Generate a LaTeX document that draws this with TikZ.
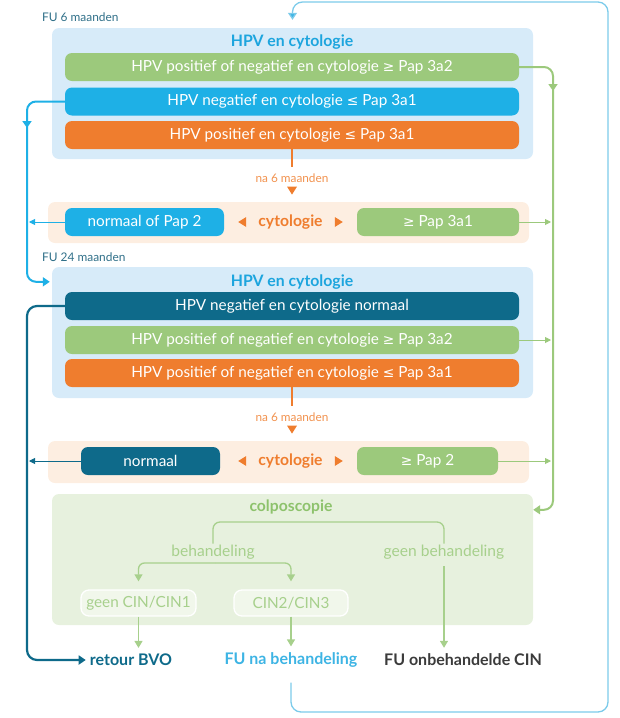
\documentclass[tikz,border=0pt]{standalone}
\usepackage{fontspec}
\setmainfont{Lato}
\newfontfamily\symf{DejaVu Sans}[Scale=0.9]
\usetikzlibrary{arrows.meta,calc}
\newcommand{\GE}{{\symf ≥}}
\newcommand{\LE}{{\symf ≤}}
\newcommand{\myfs}[1]{\fontsize{#1pt}{#1pt}\selectfont}
\definecolor{cgreen}{HTML}{9CC97C}
\definecolor{ccyan}{HTML}{1EB0E6}
\definecolor{corange}{HTML}{EF7D2E}
\definecolor{cdark}{HTML}{0E6A8A}
\definecolor{cpblue}{HTML}{D7EBF9}
\definecolor{cpeach}{HTML}{FDEEE1}
\definecolor{cpgreen}{HTML}{E7F1DE}
\definecolor{ctitle}{HTML}{1DA5DE}
\definecolor{cloop}{HTML}{7CCBEA}
\definecolor{cfu}{HTML}{2F6F88}
\definecolor{ctxtgreen}{HTML}{8DC26C}
\definecolor{clgreen}{HTML}{A7D08C}
\definecolor{cgray}{HTML}{3B3B3B}
\definecolor{cfuna}{HTML}{3DB4E4}
\begin{document}
\begin{tikzpicture}[x=1pt,y=-1pt,
  panel/.style={rounded corners=7pt, inner sep=0pt, minimum width=481pt},
  bar/.style={rounded corners=7pt, inner sep=0pt, minimum width=454pt, minimum height=28pt, text=white, font=\myfs{15.3}},
  sbox/.style={rounded corners=7pt, inner sep=0pt, minimum height=28pt, text=white, font=\myfs{15.3}},
  ptitle/.style={text=ctitle, font=\myfs{15.8}\bfseries, inner sep=1pt},
  futxt/.style={text=cfu, font=\myfs{11.9}, anchor=west, inner sep=0pt},
  natxt/.style={text=corange!85!white, font=\myfs{11.8}, inner sep=0pt},
  cytxt/.style={text=corange, font=\myfs{15.7}\bfseries, inner sep=0pt},
  ctxt/.style={text=clgreen, font=\myfs{15.6}, inner sep=1pt},
  cinbox/.style={draw=white, line width=1.3pt, rounded corners=8pt, fill=cpgreen!60!white, text=clgreen, font=\myfs{15.3}, minimum height=26pt, inner sep=0pt},
  endtxt/.style={font=\myfs{16}\bfseries, inner sep=2pt},
  gthick/.style={draw=cgreen, line width=2pt, -{Triangle[width=9pt,length=7pt]}},
  bthick/.style={draw=ccyan, line width=2pt, -{Triangle[width=9pt,length=7pt]}},
  dthick/.style={draw=cdark, line width=2.2pt, -{Triangle[width=9pt,length=7pt]}},
  thinarr/.style={line width=0.9pt, -{Triangle[width=6pt,length=6pt]}},
  carrow/.style={draw=clgreen, line width=1.3pt, -{Triangle[width=8pt,length=7pt]}},
  cline/.style={draw=clgreen, line width=1.3pt},
  loopc/.style={draw=cloop, line width=1.3pt, -{Triangle[width=9pt,length=7pt,fill=cfuna]}},
]
\useasboundingbox (0,0) rectangle (619,718);

% ---------- FU 6 maanden ----------
\node[futxt] (fu6) at (42,17) {FU 6 maanden};
\node[panel, fill=cpblue, minimum height=131pt] (p1) at (292.5,93.5) {};
\node[ptitle] (t1) at (292,42) {HPV en cytologie};
\node[bar, fill=cgreen] (g1) at (292,67) {HPV positief of negatief en cytologie \GE{} Pap 3a2};
\node[bar, fill=ccyan] (b1) at (292,101.5) {HPV negatief en cytologie \LE{} Pap 3a1};
\node[bar, fill=corange] (o1) at (292,135) {HPV positief en cytologie \LE{} Pap 3a1};

\node[natxt] (na1) at (292,178) {na 6 maanden};
\draw[corange, line width=2pt, shorten >=6pt] (o1.south) -- (na1.north);
\fill[corange] ($(na1.south)+(-5,4)$) -- ++(10,0) -- ++(-5,8) -- cycle;

\node[panel, fill=cpeach, minimum height=41pt] (c1) at (288.5,222.5) {};
\node[sbox, fill=ccyan, minimum width=159pt] (n1) at (144.5,222) {normaal of Pap 2};
\node[sbox, fill=cgreen, minimum width=162pt] (r1) at (438,222) {\GE{} Pap 3a1};
\node[cytxt] (cy1) at (290.5,222) {cytologie};
\fill[corange] ($(cy1.west)+(-12,-5)$) -- ++(0,10) -- ++(-8,-5) -- cycle;
\fill[corange] ($(cy1.east)+(12,-5)$) -- ++(0,10) -- ++(8,-5) -- cycle;

% ---------- FU 24 maanden ----------
\node[futxt] (fu24) at (42,257) {FU 24 maanden};
\node[panel, fill=cpblue, minimum height=131pt] (p2) at (292.5,332.5) {};
\node[ptitle] (t2) at (292,282) {HPV en cytologie};
\node[bar, fill=cdark] (d2) at (292,306) {HPV negatief en cytologie normaal};
\node[bar, fill=cgreen] (g2) at (292,340) {HPV positief of negatief en cytologie \GE{} Pap 3a2};
\node[bar, fill=corange] (o2) at (292,373) {HPV positief of negatief en cytologie \LE{} Pap 3a1};

\node[natxt] (na2) at (292,417) {na 6 maanden};
\draw[corange, line width=2pt, shorten >=6pt] (o2.south) -- (na2.north);
\fill[corange] ($(na2.south)+(-5,4)$) -- ++(10,0) -- ++(-5,8) -- cycle;

\node[panel, fill=cpeach, minimum height=42pt] (c2) at (288.5,462) {};
\node[sbox, fill=cdark, minimum width=139pt] (n2) at (150.5,461) {normaal};
\node[sbox, fill=cgreen, minimum width=141pt] (r2) at (427.5,461) {\GE{} Pap 2};
\node[cytxt] (cy2) at (290.5,461) {cytologie};
\fill[corange] ($(cy2.west)+(-12,-5)$) -- ++(0,10) -- ++(-8,-5) -- cycle;
\fill[corange] ($(cy2.east)+(12,-5)$) -- ++(0,10) -- ++(8,-5) -- cycle;

% ---------- colposcopie ----------
\node[panel, fill=cpgreen, minimum height=131pt] (p3) at (292.5,559.5) {};
\node[text=ctxtgreen, font=\myfs{15.7}\bfseries, inner sep=1pt] (colp) at (291,507) {colposcopie};
\node[ctxt] (beh) at (213,552) {behandeling};
\node[ctxt] (geen) at (444,552) {geen behandeling};
\node[cinbox, minimum width=115pt] (cin1) at (138.5,603) {geen CIN/CIN1};
\node[cinbox, minimum width=114pt] (cin2) at (291,603) {CIN2/CIN3};

\coordinate (btop) at (291,522);
\draw[cline, rounded corners=7pt] (beh.north) |- (geen.north |- btop) -- (geen.north);
\coordinate (bk) at (215,563);
\draw[carrow, rounded corners=6pt, shorten >=8pt] (bk) -| (cin1.north);
\draw[carrow, rounded corners=6pt, shorten >=8pt] (bk) -| (cin2.north);

\node[endtxt, text=cdark] (retour) at (131,660) {retour BVO};
\node[endtxt, text=cfuna] (funa) at (291,660) {FU na behandeling};
\node[endtxt, text=cgray] (onb) at (463,660) {FU onbehandelde CIN};

\draw[carrow, shorten >=4pt] (cin1.south) -- (cin1.south |- retour.north);
\draw[carrow, shorten >=4pt] (cin2.south) -- (cin2.south |- funa.north);
\draw[carrow, shorten <=6pt, shorten >=4pt] (geen.south) -- (geen.south |- onb.north);

% ---------- main connectors ----------
\coordinate (vl) at (27,0);
\coordinate (vr) at (553,0);

\coordinate (ga) at (553,91);
\draw[gthick, rounded corners=9pt] (g1.east) -| (ga);
\coordinate (p3in) at ($(p3.north east)+(0,16)$);
\draw[gthick, rounded corners=9pt] ($(ga)+(0,-2)$) |- (p3in);

\coordinate (ba) at (27,128);
\draw[bthick, rounded corners=9pt] (b1.west) -| (ba);
\coordinate (p2in) at ($(p2.north west)+(-2,15)$);
\draw[bthick, rounded corners=9pt] ($(ba)+(0,-2)$) |- (p2in);

\draw[dthick, rounded corners=10pt, shorten >=2pt] (d2.west) -| (vl |- retour.west) -- (retour.west);

\draw[thinarr, draw=ccyan, fill=ccyan, shorten >=2pt] (n1.west) -- (vl |- n1.west);
\draw[thinarr, draw=cgreen, fill=cgreen, shorten >=2pt] (r1.east) -- (vr |- r1.east);
\draw[thinarr, draw=cgreen, fill=cgreen, shorten >=2pt] (g2.east) -- (vr |- g2.east);
\draw[thinarr, draw=cdark, fill=cdark, shorten >=2pt] (n2.west) -- (vl |- n2.west);
\draw[thinarr, draw=cgreen, fill=cgreen, shorten >=2pt] (r2.east) -- (vr |- r2.east);

% ---------- loop back to FU 6 maanden ----------
\coordinate (lr) at (608,712);
\coordinate (tr) at (608,2);
\draw[loopc, rounded corners=10pt, shorten <=13pt, shorten >=8pt] (funa.south) |- (lr) -- (tr) -| (p1.north);
\end{tikzpicture}
\end{document}
